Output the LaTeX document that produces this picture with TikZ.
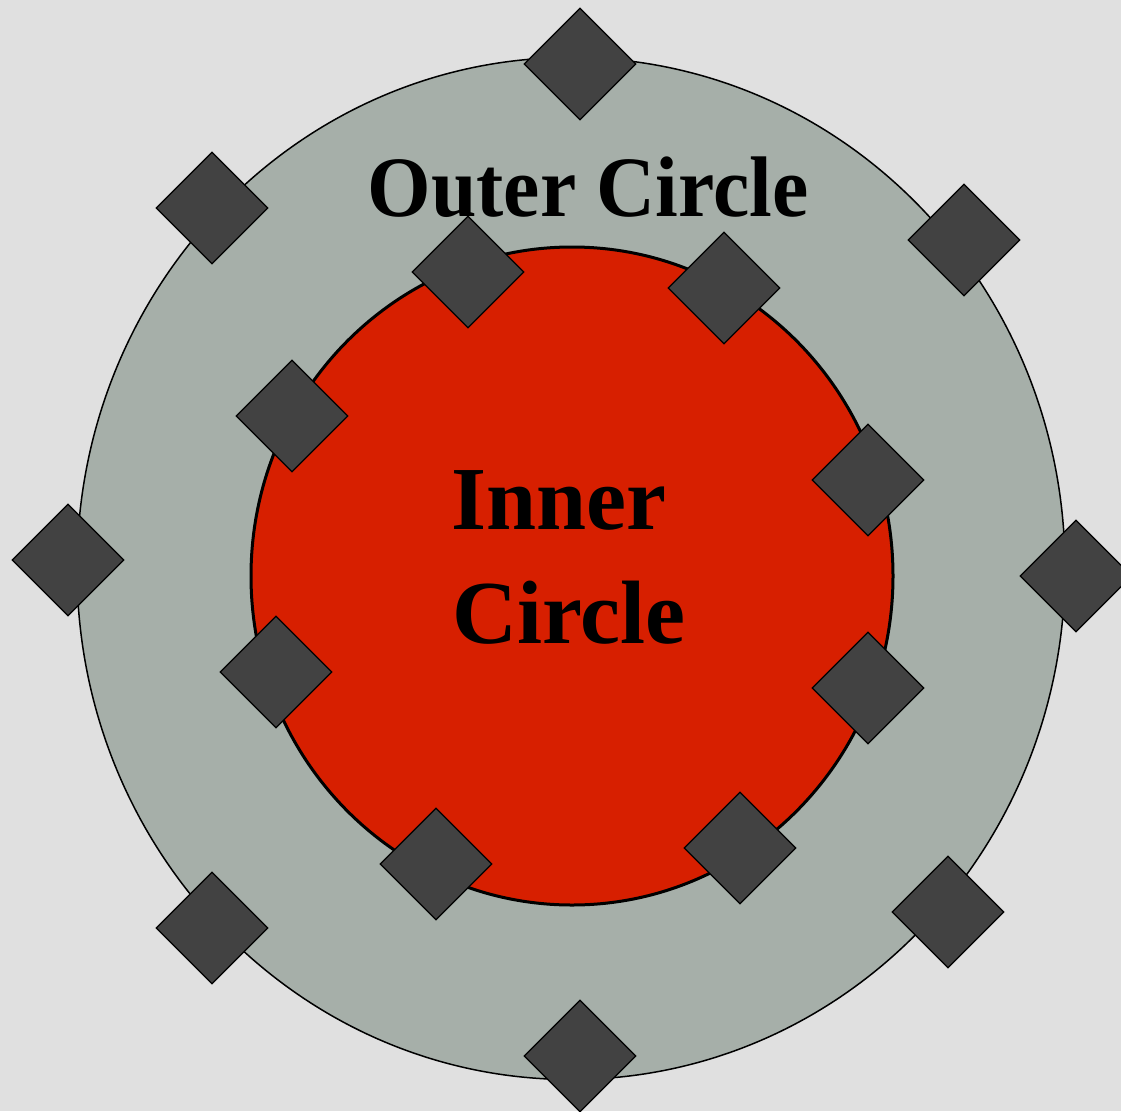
\documentclass[tikz,border=0pt]{standalone}
\usepackage{fontspec}
\setmainfont{Liberation Serif}
\usetikzlibrary{shapes.geometric}
\definecolor{bgcol}{HTML}{E0E0E0}
\definecolor{outercol}{HTML}{A6AFA9}
\definecolor{innercol}{HTML}{D71F00}
\definecolor{diacol}{HTML}{424242}
\tikzset{
  gem/.style={shape=diamond, aspect=1, minimum width=112pt, minimum height=112pt, inner sep=0pt, fill=diacol, draw=black, line width=1.2pt},
  bigtext/.style={inner sep=0pt, font=\fontsize{90}{100}\selectfont\bfseries}
}
\begin{document}
\begin{tikzpicture}[x=1pt,y=-1pt]
\fill[bgcol] (0,0) rectangle (1121,1111);
\useasboundingbox (0,0) rectangle (1121,1111);
\draw[fill=outercol, line width=1.5pt] (571,568.5) ellipse [x radius=494, y radius=511];
\draw[fill=innercol, line width=3pt] (572,576) ellipse [x radius=321, y radius=329];
\node[bigtext, anchor=base] (outer) at (588,216) {\fontsize{86}{96}\selectfont\scalebox{0.95}[1]{Outer Circle}};
\node[bigtext, anchor=base west] (inner1) at (451,529) {Inner};
\node[bigtext, anchor=base west] (inner2) at (452,643) {Circle};
\foreach \i/\x/\y in {1/580/64, 2/212/208, 3/964/240, 4/468/272, 5/724/288, 6/292/416, 7/868/480, 8/68/560, 9/1076/576, 10/276/672, 11/868/688, 12/436/864, 13/740/848, 14/212/928, 15/948/912, 16/580/1056}
  \node[gem] (d\i) at (\x,\y) {};
\end{tikzpicture}
\end{document}
